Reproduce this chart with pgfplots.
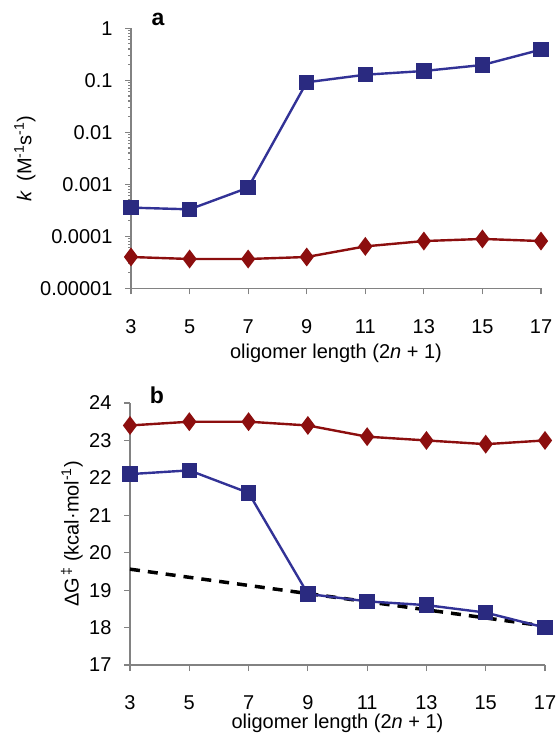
\documentclass[border=0pt]{standalone}
\usepackage{fontspec}
\setmainfont{Liberation Sans}
\usepackage{pgfplots}
\pgfplotsset{compat=1.18}

\definecolor{sqblue}{RGB}{42,42,128}
\definecolor{lnblue}{RGB}{50,50,150}
\definecolor{dkred}{RGB}{140,14,14}
\definecolor{axgray}{RGB}{130,130,130}

\pgfplotsset{
  panel/.style={
    scale only axis,
    anchor=south west,
    clip=false,
    xmin=3, xmax=17,
    xtick={3,5,7,9,11,13,15,17},
    axis x line*=bottom, axis y line*=left,
    axis line style={axgray, line width=1.1pt},
    tick style={axgray, line width=1.1pt},
    tick align=outside,
    major tick length=6pt,
    minor tick num=0,
    font=\fontsize{20}{23}\selectfont,
    /pgf/number format/assume math mode=true,
    xticklabel style={anchor=center, yshift=-32pt},
    yticklabel style={anchor=east, xshift=-9pt},
    sqser/.style={lnblue, line width=2.4pt, mark=square*, mark size=6.5pt,
      mark options={sqblue, fill=sqblue, solid}},
    dmser/.style={dkred, line width=2.4pt, mark=diamond*, mark size=7.5pt,
      mark options={dkred, fill=dkred, solid}},
  }
}

\begin{document}
\begin{tikzpicture}
\useasboundingbox (0,0) rectangle (557pt,736pt);

% panel a: rate constants (log scale)
\begin{axis}[panel,
    at={(131pt,447.7pt)}, width=410pt, height=260pt,
    ymode=log, ymin=1e-5, ymax=1,
    ytick={1e-5,1e-4,1e-3,1e-2,1e-1,1},
    yticklabels={0.00001,0.0001,0.001,0.01,0.1,1},
    xticklabels={3,5,7,9,11,13,15,17},
    xlabel={oligomer length (2\textit{n} + 1)},
    xlabel style={at={(axis description cs:0.5,-0.25)}, anchor=center},
    ylabel={\textit{k}\, (M\textsuperscript{-1}s\textsuperscript{-1})},
    ylabel style={at={(axis description cs:-0.259,0.5)}, anchor=center, rotate=0},
]
\addplot[sqser] coordinates {
  (3,3.56e-4) (5,3.3e-4) (7,8.6e-4) (9,0.0916)
  (11,0.128) (13,0.151) (15,0.197) (17,0.389)
};
\addplot[dmser] coordinates {
  (3,4.0e-5) (5,3.66e-5) (7,3.66e-5) (9,4.0e-5)
  (11,6.4e-5) (13,8.1e-5) (15,8.9e-5) (17,8.1e-5)
};
\node[font=\fontsize{23}{26}\selectfont\bfseries] at (rel axis cs:0.066,1.035) {a};
\end{axis}

% panel b: activation free energies
\begin{axis}[panel,
    at={(130pt,71pt)}, width=415pt, height=262pt,
    ymin=17, ymax=24,
    ytick={17,18,...,24},
    yticklabels={17,18,19,20,21,22,23,24},
    xticklabels={3,5,7,9,11,13,15,17},
    xlabel={oligomer length (2\textit{n} + 1)},
    xlabel style={at={(axis description cs:0.5,-0.222)}, anchor=center},
    ylabel={ΔG\textsuperscript{\,‡} (kcal·mol\textsuperscript{-1})},
    ylabel style={at={(axis description cs:-0.14,0.5)}, anchor=center, rotate=0},
]
\addplot[black, line width=3.5pt, dash pattern=on 10pt off 8pt] coordinates {
  (3,19.56) (17,18.04)
};
\addplot[dmser] coordinates {
  (3,23.4) (5,23.5) (7,23.5) (9,23.4)
  (11,23.1) (13,23.0) (15,22.9) (17,23.0)
};
\addplot[sqser] coordinates {
  (3,22.1) (5,22.2) (7,21.6) (9,18.9)
  (11,18.7) (13,18.6) (15,18.4) (17,18.0)
};
\node[font=\fontsize{23}{26}\selectfont\bfseries] at (rel axis cs:0.065,1.031) {b};
\end{axis}
\end{tikzpicture}
\end{document}
